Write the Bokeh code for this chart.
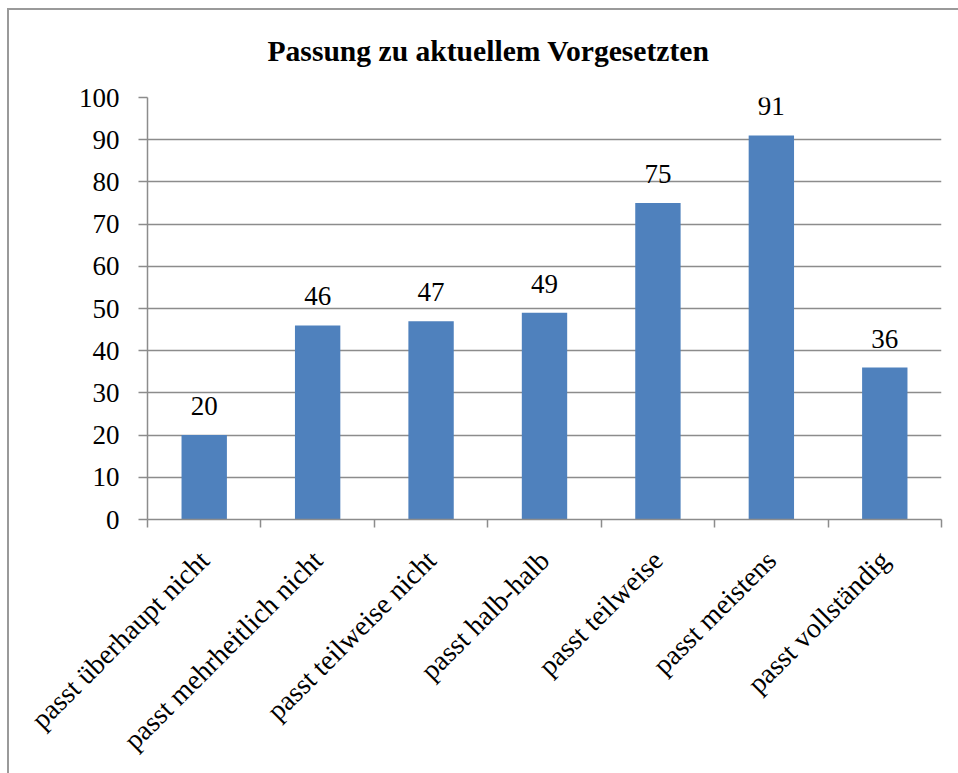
from math import pi

from bokeh.embed import file_html
from bokeh.resources import INLINE
from bokeh.plotting import figure
from bokeh.models import (ColumnDataSource, FixedTicker, LabelSet,
                          LinearAxis, Range1d)

# Survey answers: fit with the current supervisor
categories = [
    "passt überhaupt nicht",
    "passt mehrheitlich nicht",
    "passt teilweise nicht",
    "passt halb-halb",
    "passt teilweise",
    "passt meistens",
    "passt vollständig",
]
counts = [20, 46, 47, 49, 75, 91, 36]
y_ticks = [0, 10, 20, 30, 40, 50, 60, 70, 80, 90, 100]
title_text = "Passung zu aktuellem Vorgesetzten"

FONT = "Liberation Serif"
BAR = "#4F81BD"
GRID = "#8C8C8C"
FRAME = "#9A9A9A"

# each category occupies one unit slot on the x axis, bar in its middle
slot_centres = [i + 0.5 for i in range(len(categories))]
slot_edges = list(range(len(categories) + 1))

source = ColumnDataSource(data=dict(
    x=slot_centres,
    count=counts,
    label=[str(c) for c in counts],
))

p = figure(
    x_range=Range1d(0, len(categories)),
    y_range=Range1d(0, 100),
    width=958, height=773,
    min_border_left=147, min_border_right=17,
    min_border_top=97, min_border_bottom=254,
    x_axis_location=None,
    output_backend="svg",
    toolbar_location=None,
    tools="",
)
p.outline_line_color = None
p.background_fill_color = "white"
p.border_fill_color = None

# thin grey frame around the chart area (top and left edges in view)
p.styles = {
    "background-color": "white",
    "background-image": f"linear-gradient({FRAME}, {FRAME}), linear-gradient({FRAME}, {FRAME})",
    "background-size": "100% 2px, 2px 100%",
    "background-position": "7px 8px, 7px 8px",
    "background-repeat": "no-repeat",
}

# Title
p.title.text = title_text
p.title.text_font = FONT
p.title.text_font_size = "29.6px"
p.title.text_font_style = "bold"
p.title.text_color = "black"
p.title.align = "left"
p.title.offset = 120
p.title.standoff = 61

# Bars
p.vbar(x="x", top="count", width=0.40, source=source,
       fill_color=BAR, line_color=None)

# Value labels above the bars
p.add_layout(LabelSet(
    x="x", y="count", text="label", source=source,
    y_offset=20, text_align="center", text_baseline="alphabetic",
    text_font=FONT, text_font_size="27px", text_color="black",
))

# Y axis and horizontal grid
yax = p.yaxis[0]
yax.ticker = FixedTicker(ticks=y_ticks)
yax.axis_line_color = GRID
yax.axis_line_width = 1.5
yax.major_tick_line_color = GRID
yax.major_tick_line_width = 1.5
yax.major_tick_in = 0
yax.major_tick_out = 9
yax.minor_tick_line_color = None
yax.major_label_standoff = 19
yax.major_label_text_font = FONT
yax.major_label_text_font_size = "27px"
yax.major_label_text_color = "black"

p.ygrid.ticker = FixedTicker(ticks=y_ticks)
p.ygrid.grid_line_color = GRID
p.ygrid.grid_line_width = 1.5
p.xgrid.visible = False

# X axis: names at slot centres, tick marks on the slot boundaries
cat_axis = LinearAxis(
    ticker=FixedTicker(ticks=slot_centres, minor_ticks=slot_edges),
    major_label_overrides={c: name for c, name in zip(slot_centres, categories)},
    axis_line_color=GRID, axis_line_width=1.5,
    major_tick_line_color=None,
    major_tick_in=0, major_tick_out=8,
    minor_tick_line_color=GRID, minor_tick_line_width=1.5,
    minor_tick_in=0, minor_tick_out=8,
    major_label_orientation=pi / 4,
    major_label_standoff=28,
    major_label_text_font=FONT,
    major_label_text_font_size="28px",
    major_label_text_color="black",
)
p.add_layout(cat_axis, "below")

open("out.html", "w").write(file_html(p, INLINE))
